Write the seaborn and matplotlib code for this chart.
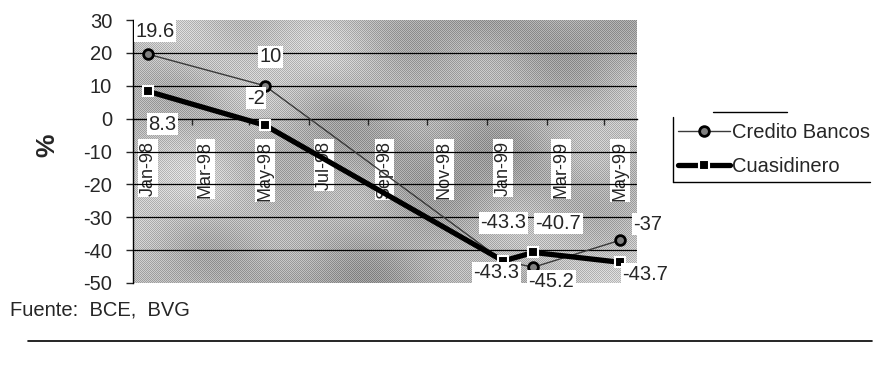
import numpy as np
import pandas as pd
import matplotlib
matplotlib.use("Agg")
import matplotlib.pyplot as plt
import matplotlib.dates as mdates
from matplotlib.lines import Line2D
import seaborn as sns

# Series (variación %, fechas de observación)
fechas = ["1998-01-01", "1998-05-01", "1999-01-01", "1999-02-01", "1999-05-01"]
credito_bancos = [19.6, 10, -43.3, -45.2, -37]
cuasidinero = [8.3, -2, -43.3, -40.7, -43.7]

# Eje de fechas
fechas_eje = ["1998-01-01", "1998-03-01", "1998-05-01", "1998-07-01", "1998-09-01",
              "1998-11-01", "1999-01-01", "1999-03-01", "1999-05-01"]
etiquetas_eje = ["Jan-98", "Mar-98", "May-98", "Jul-98", "Sep-98",
                 "Nov-98", "Jan-99", "Mar-99", "May-99"]
valores_y = [30, 20, 10, 0, -10, -20, -30, -40, -50]

sns.set_style("white")
plt.rcParams["font.family"] = ["Liberation Sans", "DejaVu Sans"]

W, H = 895, 365
fig = plt.figure(figsize=(W / 100, H / 100), dpi=100)
L, R, T, B = 133, 637, 20, 283
ax = fig.add_axes([L / W, 1 - B / H, (R - L) / W, (B - T) / H])

f = pd.to_datetime(fechas)
fx = pd.to_datetime(fechas_eje)
x0 = mdates.date2num(fx[0]) - 15.5
x1 = mdates.date2num(fx[-1]) + 17.5
ax.set_xlim(x0, x1)
ax.set_ylim(-50, 30)

# Fondo con textura gris
nx, ny = R - L, B - T
gx, gy = np.meshgrid(np.linspace(0, 1, nx), np.linspace(0, 1, ny))
campo = (0.5 * np.sin(6.0 * gx + 2.0 * gy) + 0.35 * np.sin(11.0 * gy - 4.0 * gx + 1.3)
         + 0.3 * np.sin(17.0 * gx + 9.0 * gy + 0.7) + 0.2 * np.sin(23.0 * gx - 13.0 * gy))
campo = (campo - campo.min()) / (campo.max() - campo.min())
gris = 0.58 + 0.24 * campo
ii, jj = np.indices(gris.shape)
gris = gris + np.where((ii + jj) % 2 == 0, 0.09, -0.09)
gris = np.clip(gris, 0, 1)
ax.imshow(np.dstack([gris, gris, gris]), extent=[x0, x1, -50, 30], aspect="auto",
          interpolation="nearest", zorder=0)
ax.set_xlim(x0, x1)
ax.set_ylim(-50, 30)

for v in valores_y:
    if v not in (0, 30, -50):
        ax.axhline(v, color="black", lw=0.9, zorder=1)

# Líneas
sns.lineplot(x=f, y=credito_bancos, ax=ax, color="#3a3a3a", lw=1.0, marker="o",
             markersize=7, markerfacecolor="#808080", markeredgecolor="black",
             markeredgewidth=2.0, legend=False, zorder=3)
sns.lineplot(x=f, y=cuasidinero, ax=ax, color="black", lw=3.8, marker="s",
             markersize=7, markerfacecolor="black", markeredgecolor="white",
             markeredgewidth=1.5, legend=False, zorder=4)

# Etiquetas de datos
caja = dict(facecolor="white", edgecolor="none", pad=1.0)
desp_credito = [(7, 23), (6, 29), (0, 38), (18, -14), (28, 16)]
desp_cuasi = [(14, -33), (-9, 27), (-7, -12), (25, 29), (25, -12)]
for xi, yi, d in zip(f, credito_bancos, desp_credito):
    ax.annotate(f"{yi:g}", (mdates.date2num(xi), yi), xytext=d, textcoords="offset pixels",
                ha="center", va="center", fontsize=14.5, bbox=caja, zorder=6)
for xi, yi, d in zip(f, cuasidinero, desp_cuasi):
    ax.annotate(f"{yi:g}", (mdates.date2num(xi), yi), xytext=d, textcoords="offset pixels",
                ha="center", va="center", fontsize=14.5, bbox=caja, zorder=6)

# Ejes
for s in ["top", "right"]:
    ax.spines[s].set_visible(False)
ax.spines["left"].set_color("black")
ax.spines["left"].set_linewidth(1.0)
ax.spines["bottom"].set_position(("data", 0))
ax.spines["bottom"].set_color("black")
ax.spines["bottom"].set_linewidth(1.0)
ax.spines["bottom"].set_zorder(2)

ax.set_yticks(valores_y)
ax.set_yticklabels([str(v) for v in valores_y], fontsize=14.5)
ax.tick_params(axis="y", direction="out", length=5, width=1, pad=10, left=True)

ax.set_xticks(mdates.date2num(fx))
ax.set_xticklabels(etiquetas_eje, rotation=90, va="top", ha="center", fontsize=13)
ax.tick_params(axis="x", which="major", length=0, pad=16, bottom=True)
menores = pd.date_range("1998-02-15", periods=8, freq=pd.DateOffset(months=2))
ax.set_xticks(mdates.date2num(menores), minor=True)
ax.tick_params(axis="x", which="minor", direction="out", length=4, width=1, bottom=True)
for lbl in ax.get_xticklabels():
    lbl.set_bbox(dict(facecolor="white", edgecolor="none", pad=1.0))
    lbl.set_zorder(5)
ax.set_xlabel("")
ax.set_ylabel("")
ax.grid(False)

fig.text(47 / W, 1 - 145 / H, "%", rotation=90, fontsize=19, fontweight="bold",
         ha="center", va="center")

# Leyenda
manejadores = [
    Line2D([], [], color="#3a3a3a", lw=1.0, marker="o", markersize=7,
           markerfacecolor="#808080", markeredgecolor="black", markeredgewidth=2.0),
    Line2D([], [], color="black", lw=3.8, marker="s", markersize=7,
           markerfacecolor="black", markeredgecolor="white", markeredgewidth=1.5),
]
fig.legend(manejadores, ["Credito Bancos", "Cuasidinero"], loc="upper left",
           bbox_to_anchor=(674 / W, 1 - 119 / H), frameon=False, fontsize=14.5,
           handlelength=2.6, handletextpad=0.1, labelspacing=0.75, borderpad=0.2,
           borderaxespad=0.0)
fig.add_artist(Line2D([673 / W, 673 / W], [1 - 117 / H, 1 - 182 / H], color="black", lw=1.0))
fig.add_artist(Line2D([673 / W, 870 / W], [1 - 182 / H, 1 - 182 / H], color="black", lw=1.0))
fig.add_artist(Line2D([713 / W, 787 / W], [1 - 112 / H, 1 - 112 / H], color="black", lw=1.0))

# Pie
fig.text(10 / W, 1 - 310 / H, "Fuente:  BCE,  BVG", fontsize=14.5, ha="left", va="center")
fig.add_artist(Line2D([28 / W, 872 / W], [1 - 341 / H, 1 - 341 / H], color="black", lw=1.2))

fig.savefig("out.png", dpi=100)
